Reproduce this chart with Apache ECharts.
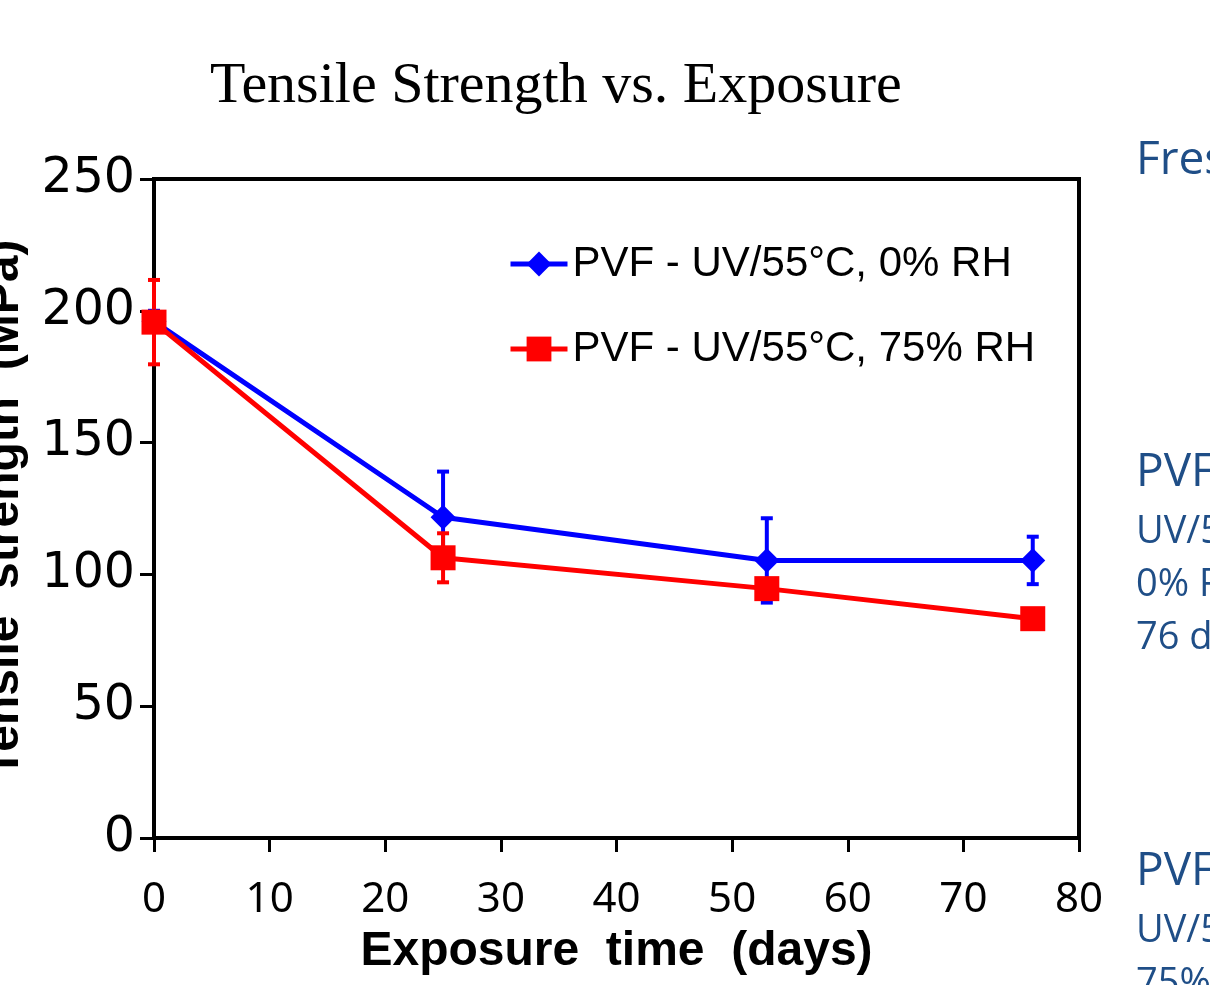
<!DOCTYPE html>
<html>
<head>
<meta charset="utf-8">
<script src="https://cdn.jsdelivr.net/npm/echarts@6/dist/echarts.min.js"></script>
<style>
  html, body { margin: 0; padding: 0; background: #fff; }
  #chart { width: 1210px; height: 985px; }
</style>
</head>
<body>
<div id="chart"></div>
<script>
// exposure days
const days = [0, 25, 53, 76]
// UV/55C 0% RH
const dryVals = [196, 121.7, 105.3, 105.3]
const dryErr = [4, 17.3, 16, 9]
// UV/55C 75% RH
const wetVals = [195.7, 106.3, 94.6, 83.2]
const wetErr = [16, 9.3, 3, 2]

const dryName = 'PVF - UV/55°C, 0% RH'
const wetName = 'PVF - UV/55°C, 75% RH'

// side notes (cut off at the page edge in the source slide)
const sideBig = [['Fresh', 162], ['PVF', 474], ['PVF', 873]]
const sideSmall = [['UV/55°C', 532], ['0% RH', 585], ['76 days', 638], ['UV/55°C', 931], ['75% RH', 984]]

const errData = (vals, errs) => days.map((d, i) => [d, vals[i] - errs[i], vals[i] + errs[i]])

const errSeries = (name, vals, errs, color) => ({
  name: name,
  type: 'custom',
  data: errData(vals, errs),
  silent: true,
  renderItem: function (params, api) {
    const x = api.value(0)
    const top = api.coord([x, api.value(2)])
    const bot = api.coord([x, api.value(1)])
    const hw = 6
    const st = { stroke: color, lineWidth: 4 }
    return {
      type: 'group',
      children: [
        { type: 'line', shape: { x1: top[0], y1: top[1], x2: bot[0], y2: bot[1] }, style: st },
        { type: 'line', shape: { x1: top[0] - hw, y1: top[1], x2: top[0] + hw, y2: top[1] }, style: st },
        { type: 'line', shape: { x1: bot[0] - hw, y1: bot[1], x2: bot[0] + hw, y2: bot[1] }, style: st }
      ]
    }
  }
})

const chart = echarts.init(document.getElementById('chart'))

const graphics = []
sideBig.forEach(t => graphics.push({
  type: 'text', left: 1136, top: t[1] - 24,
  style: { text: t[0], fill: '#1F4E87', font: '46px "Open Sans"' }
}))
sideSmall.forEach(t => graphics.push({
  type: 'text', left: 1136, top: t[1] - 19,
  style: { text: t[0], fill: '#1F4E87', font: '38px "Open Sans"' }
}))

const option = {
  animation: false,
  backgroundColor: '#fff',
  title: {
    text: 'Tensile Strength vs. Exposure',
    left: 205,
    top: 53,
    textStyle: { fontFamily: '"Liberation Serif", serif', fontWeight: 'normal', fontSize: 58, color: '#000' }
  },
  legend: {
    data: [dryName, wetName],
    orient: 'vertical',
    left: 503,
    top: 238,
    itemWidth: 57,
    itemHeight: 31,
    itemGap: 43,
    lineStyle: { width: 5 },
    textStyle: { fontFamily: '"Liberation Sans", Arial', fontSize: 42, color: '#000' }
  },
  grid: {
    left: 154, right: 131, top: 179, bottom: 147,
    outerBoundsMode: 'none',
    containLabel: false,
    show: true, borderColor: '#000', borderWidth: 4
  },
  xAxis: {
    type: 'value',
    min: 0, max: 80, interval: 10,
    name: 'Exposure  time  (days)',
    nameLocation: 'middle',
    nameGap: 90,
    nameTextStyle: { fontFamily: '"Liberation Sans", Arial', fontWeight: 'bold', fontSize: 48, color: '#000' },
    axisLine: { lineStyle: { color: '#000', width: 4 } },
    axisTick: { length: 14, lineStyle: { color: '#000', width: 3 } },
    axisLabel: { margin: 41, fontFamily: '"Noto Sans"', fontSize: 42, color: '#000' },
    splitLine: { show: false }
  },
  yAxis: {
    type: 'value',
    min: 0, max: 250, interval: 50,
    name: 'Tensile  strength  (MPa)',
    nameLocation: 'middle',
    nameGap: 125,
    nameRotate: 90,
    nameTextStyle: { fontFamily: '"Liberation Sans", Arial', fontWeight: 'bold', fontSize: 48, color: '#000' },
    axisLine: { lineStyle: { color: '#000', width: 4 } },
    axisTick: { length: 14, lineStyle: { color: '#000', width: 3 } },
    axisLabel: { margin: 19, fontFamily: '"DejaVu Sans"', fontSize: 49, color: '#000' },
    splitLine: { show: false }
  },
  series: [
    errSeries('dryErr', dryVals, dryErr, '#0000FF'),
    {
      name: dryName,
      type: 'line',
      data: days.map((d, i) => [d, dryVals[i]]),
      symbol: 'diamond',
      symbolSize: 25,
      lineStyle: { color: '#0000FF', width: 5 },
      itemStyle: { color: '#0000FF' }
    },
    errSeries('wetErr', wetVals, wetErr, '#FF0000'),
    {
      name: wetName,
      type: 'line',
      data: days.map((d, i) => [d, wetVals[i]]),
      symbol: 'rect',
      symbolSize: 25,
      lineStyle: { color: '#FF0000', width: 5 },
      itemStyle: { color: '#FF0000' }
    }
  ],
  graphic: graphics
}

chart.setOption(option)
</script>
</body>
</html>
